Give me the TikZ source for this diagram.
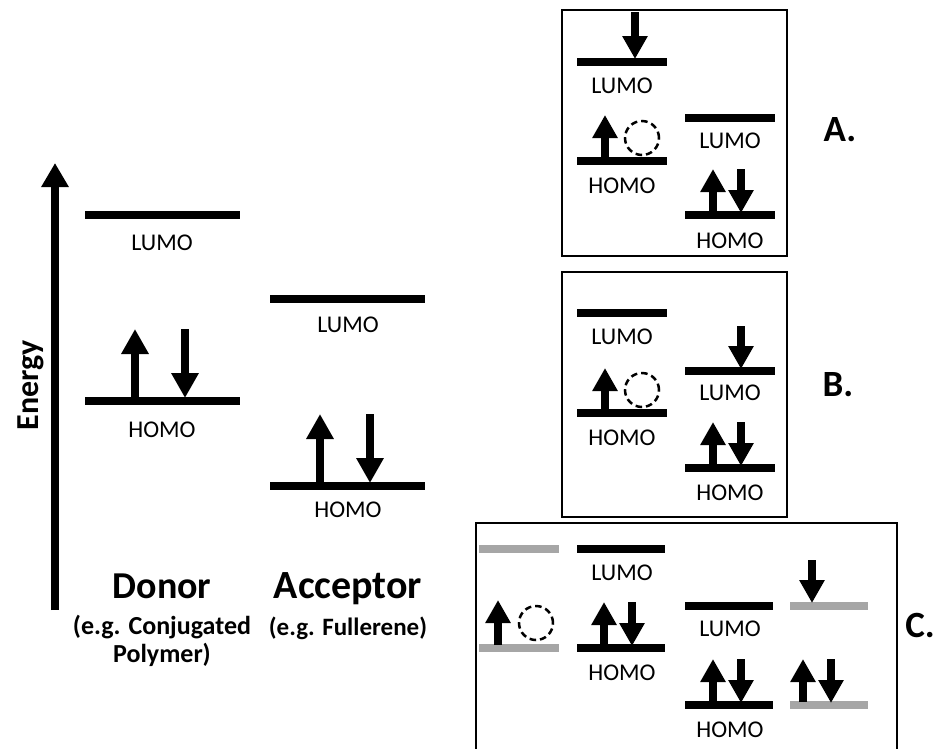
\documentclass[tikz,border=0pt]{standalone}
\usepackage{fontspec}
\setmainfont{Carlito}
\usetikzlibrary{arrows.meta}
\definecolor{lgrey}{HTML}{A6A6A6}
\begin{document}
\begin{tikzpicture}[x=1pt,y=-1pt,
  lvl/.style={line width=7.5pt},
  glvl/.style={line width=7.5pt,draw=lgrey},
  bigup/.style={line width=7.5pt,-{Triangle[length=25pt,width=26pt]}},
  smup/.style={line width=7.5pt,-{Triangle[length=23pt,width=24pt]}},
  lab/.style={font=\fontsize{24}{26}\selectfont, inner sep=0pt},
  hole/.style={draw,line width=2.5pt,circle,minimum size=34pt,inner sep=0pt,dash pattern=on 6.5pt off 4pt},
  panel/.style={draw,line width=1.8pt},
  plabel/.style={font=\bfseries\fontsize{37}{40}\selectfont, inner sep=0pt}]
\useasboundingbox (0,0) rectangle (943,748);
% Energy axis
\coordinate (eb) at (55,610);
\coordinate (et) at (55,163);
\draw[line width=8pt,-{Triangle[length=24pt,width=26pt]}] (eb) -- (et);
\node[rotate=90, font=\bfseries\fontsize{32}{34}\selectfont, inner sep=0pt] (energy) at (31,385) {Energy};
% Donor
\draw[lvl] (85,215) -- (240,215);
\node[lab] (dl) at (162,243) {LUMO};
\draw[lvl] (85,401) -- (240,401);
\node[lab] (dh) at (162,430) {HOMO};
\draw[bigup] (135,398) -- (135,329);
\draw[bigup] (185,329) -- (185,398);
% Acceptor
\draw[lvl] (270,299) -- (425,299);
\node[lab] (al) at (348,325) {LUMO};
\draw[lvl] (270,486) -- (425,486);
\node[lab] (ah) at (348,510) {HOMO};
\draw[bigup] (320,483) -- (320,414);
\draw[bigup] (370,414) -- (370,483);
\node[font=\bfseries\fontsize{38}{40}\selectfont, inner sep=0pt] (donor) at (162,586) {Donor};
\node[font=\bfseries\fontsize{26}{28}\selectfont, align=center, inner sep=0pt] (dsub) at (162,641) {(e.g. Conjugated\\Polymer)};
\node[font=\bfseries\fontsize{40}{42}\selectfont, inner sep=0pt] (acceptor) at (348,589) {Acceptor};
\node[font=\bfseries\fontsize{25}{27}\selectfont, inner sep=0pt] (asub) at (348,628) {(e.g. Fullerene)};
% Panel A
\draw[panel] (562,10) rectangle (787,256);
\node[plabel] (pa) at (840,130) {A.};
\draw[lvl] (577,62) -- (667,62);
\draw[smup] (635,12) -- (635,59);
\node[lab] (aLl) at (622,86) {LUMO};
\draw[lvl] (577,161) -- (667,161);
\draw[smup] (605,158) -- (605,115);
\node[hole] (ah1) at (642,138) {};
\node[lab] (aLh) at (622,186) {HOMO};
\draw[lvl] (685,118) -- (775,118);
\node[lab] (aRl) at (730,141) {LUMO};
\draw[lvl] (685,215) -- (775,215);
\draw[smup] (713,212) -- (713,169);
\draw[smup] (741,169) -- (741,213);
\node[lab] (aRh) at (730,241) {HOMO};
% Panel B
\draw[panel] (562,272) rectangle (787,517);
\node[plabel] (pb) at (838,385) {B.};
\draw[lvl] (577,313) -- (667,313);
\node[lab] (bLl) at (622,337) {LUMO};
\draw[lvl] (577,413) -- (667,413);
\draw[smup] (605,410) -- (605,368);
\node[hole] (bh1) at (642,390) {};
\node[lab] (bLh) at (622,438) {HOMO};
\draw[smup] (741,326) -- (741,369);
\draw[lvl] (685,371) -- (775,371);
\node[lab] (bRl) at (730,393) {LUMO};
\draw[lvl] (685,468) -- (775,468);
\draw[smup] (713,465) -- (713,422);
\draw[smup] (741,422) -- (741,466);
\node[lab] (bRh) at (730,493) {HOMO};
% Panel C
\draw[panel] (476,750) -- (476,523) -- (897,523) -- (897,750);
\node[plabel] (pc) at (920,625) {C.};
\draw[glvl] (479,549) -- (559,549);
\draw[glvl] (479,648) -- (559,648);
\draw[smup] (498,645) -- (498,600);
\node[hole] (ch1) at (536,623) {};
\draw[lvl] (577,549) -- (665,549);
\node[lab] (cl1) at (622,573) {LUMO};
\draw[lvl] (577,648) -- (665,648);
\draw[smup] (604,645) -- (604,602);
\draw[smup] (632,602) -- (632,646);
\node[lab] (ch1l) at (622,673) {HOMO};
\draw[lvl] (685,606) -- (773,606);
\node[lab] (cl2) at (730,629) {LUMO};
\draw[lvl] (685,705) -- (773,705);
\draw[smup] (713,702) -- (713,659);
\draw[smup] (741,659) -- (741,703);
\node[lab] (ch2) at (730,730) {HOMO};
\draw[glvl] (790,606) -- (868,606);
\draw[smup] (812,560) -- (812,603);
\draw[glvl] (790,705) -- (868,705);
\draw[smup] (803,702) -- (803,659);
\draw[smup] (831,659) -- (831,703);
\end{tikzpicture}
\end{document}
